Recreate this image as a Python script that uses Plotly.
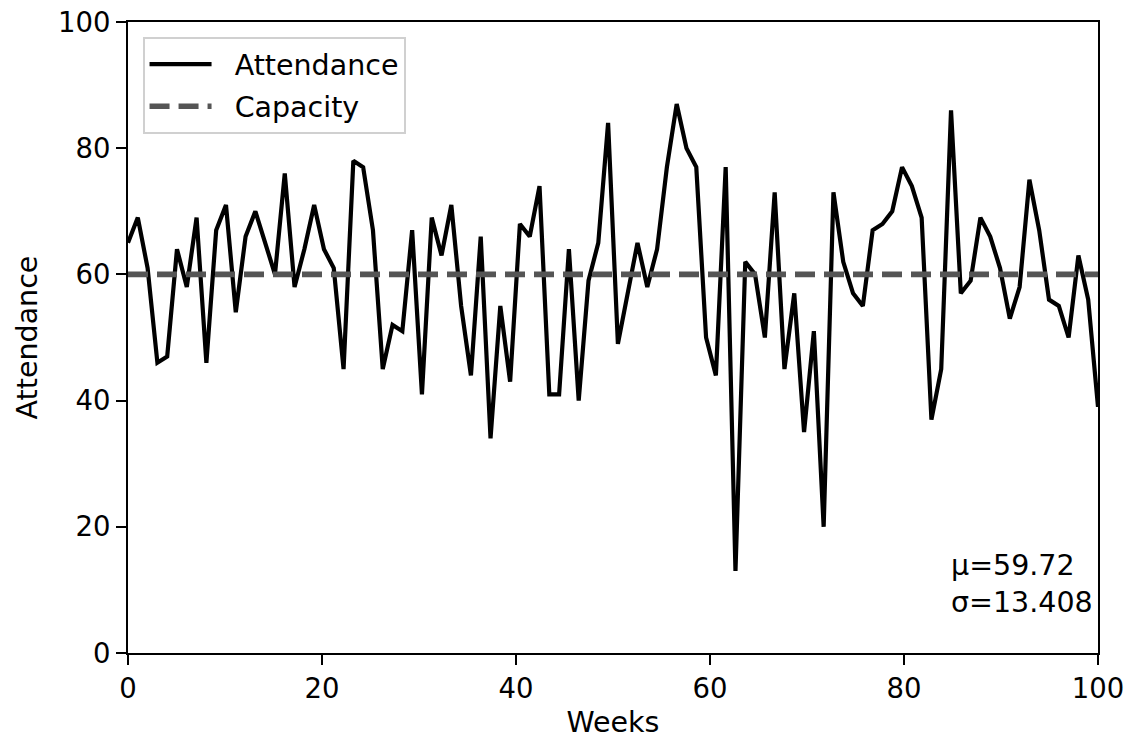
import numpy as np
import plotly.graph_objects as go

attendance = [65, 69, 61, 46, 47, 64, 58, 69, 46, 67,
              71, 54, 66, 70, 65, 60, 76, 58, 64, 71,
              64, 61, 45, 78, 77, 67, 45, 52, 51, 67,
              41, 69, 63, 71, 55, 44, 66, 34, 55, 43,
              68, 66, 74, 41, 41, 64, 40, 59, 65, 84,
              49, 57, 65, 58, 64, 77, 87, 80, 77, 50,
              44, 77, 13, 62, 60, 50, 73, 45, 57, 35,
              51, 20, 73, 62, 57, 55, 67, 68, 70, 77,
              74, 69, 37, 45, 86, 57, 59, 69, 66, 61,
              53, 58, 75, 67, 56, 55, 50, 63, 56, 39]
weeks = np.linspace(0, 100, len(attendance))
capacity = 60
x_range = [0, 100]
y_range = [0, 100]
y_ticks = [0, 20, 40, 60, 80, 100]
x_ticks = [0, 20, 40, 60, 80, 100]
stat_mean = 59.72     # as printed on the chart
stat_std = 13.408     # as printed on the chart

FONT = "DejaVu Sans"
FS_TICK = 27.5
FS = 28.5
PAD = "\u00a0\u00a0"

fig = go.Figure()
fig.add_trace(go.Scatter(x=weeks, y=attendance, mode="lines", name=PAD + "Attendance",
                         line=dict(color="black", width=4.2), legendgroup="a"))
fig.add_trace(go.Scatter(x=x_range, y=[capacity, capacity], mode="lines", name=PAD + "Capacity",
                         line=dict(color="#555555", width=5.6, dash="20px,9px"), legendgroup="b"))

axis_common = dict(showline=True, linecolor="black", linewidth=2.2, mirror=True,
                   ticks="outside", ticklen=10, tickwidth=2.2, tickcolor="black",
                   showgrid=False, zeroline=False, automargin=False,
                   tickfont=dict(family=FONT, size=FS_TICK, color="black"))

fig.update_xaxes(range=x_range, tickvals=x_ticks,
                 title=dict(text="Weeks", font=dict(family=FONT, size=FS, color="black"), standoff=9),
                 **axis_common)
fig.update_yaxes(range=y_range, tickvals=y_ticks,
                 title=dict(text="Attendance", font=dict(family=FONT, size=FS, color="black"), standoff=12),
                 **axis_common)

fig.add_annotation(xref="paper", yref="paper", x=0.846, y=0.05, xanchor="left", yanchor="bottom",
                   align="left", showarrow=False,
                   text=f"μ={stat_mean:.2f}<br>σ={stat_std:.3f}",
                   font=dict(family=FONT, size=FS, color="black"))

fig.update_layout(
    width=1135, height=742,
    margin=dict(l=128, r=37, t=22, b=89, autoexpand=False),
    paper_bgcolor="white", plot_bgcolor="white",
    font=dict(family=FONT, size=FS, color="black"),
    showlegend=True,
    legend=dict(x=0.015, y=0.976, xanchor="left", yanchor="top",
                bgcolor="rgba(255,255,255,0.8)", bordercolor="#d0d0d0", borderwidth=2,
                font=dict(family=FONT, size=FS, color="black"),
                tracegroupgap=2, itemwidth=62),
)

fig.write_html("out.html")
